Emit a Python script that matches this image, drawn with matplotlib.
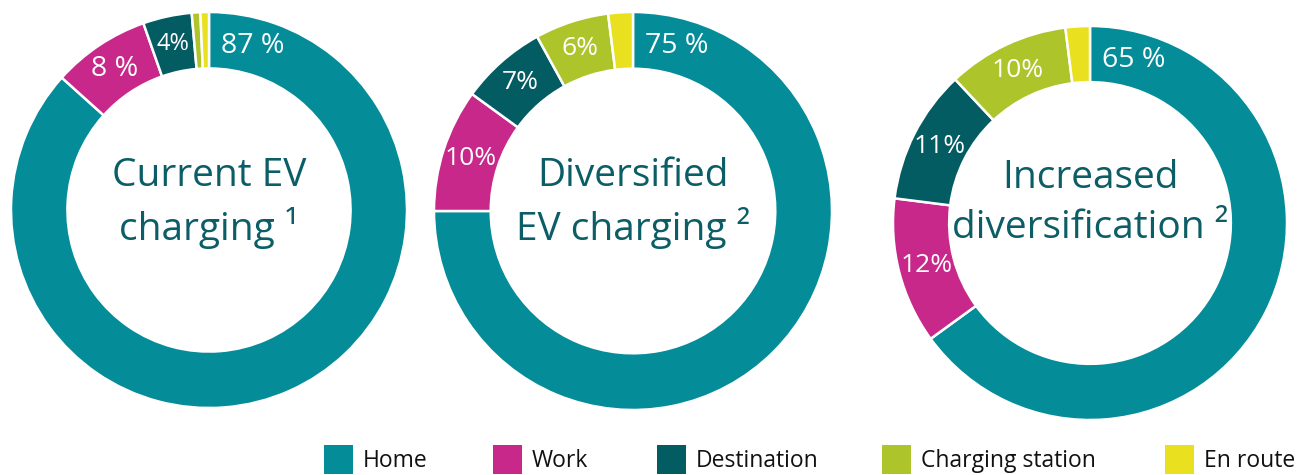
import matplotlib
matplotlib.use("Agg")
import matplotlib.pyplot as plt
import numpy as np

categories = ["Home", "Work", "Destination", "Charging station", "En route"]
colors = ["#048c98", "#c7288a", "#045c63", "#adc52b", "#e9e11f"]

current = [87, 8, 4, 0.7, 0.7]
diversified = [75, 10, 7, 6, 2]
increased = [65, 12, 11, 10, 2]

labels_current = ["87 %", "8 %", "4%", "", ""]
labels_diversified = ["75 %", "10%", "7%", "6%", ""]
labels_increased = ["65 %", "12%", "11%", "10%", ""]

titles = ["Current EV\ncharging ¹", "Diversified\nEV charging ²", "Increased\ndiversification ²"]

W, H = 1308, 475
fig = plt.figure(figsize=(W / 100, H / 100), dpi=100)
ax = fig.add_axes([0, 0, 1, 1])

FONT = ["Open Sans", "DejaVu Sans"]
text_color = "#0b5d66"

charts = [
    (current, labels_current, (209, H - 210), 198, [20.5, 20.5, 17, 17, 17]),
    (diversified, labels_diversified, (633, H - 211), 199, [20.5, 19, 19, 19, 19]),
    (increased, labels_increased, (1090, H - 223), 197, [20.5, 19, 19, 19, 19]),
]

for (vals, labs, center, r, fsz), title in zip(charts, titles):
    width_frac = 0.285
    ax.pie(vals, colors=colors, startangle=90, counterclock=False,
           center=center, radius=r,
           wedgeprops=dict(width=r * width_frac, edgecolor="white", linewidth=1.8))
    total = float(sum(vals))
    cum = 0.0
    rmid = r * (1 - width_frac / 2)
    for i, (v, lab) in enumerate(zip(vals, labs)):
        start = cum / total * 360
        end = (cum + v) / total * 360
        cum += v
        if not lab:
            continue
        if i == 0:
            ang = 15.0  # home label near top
        else:
            ang = (start + end) / 2
        theta = np.deg2rad(90 - ang)
        x = center[0] + rmid * np.cos(theta)
        y = center[1] + rmid * np.sin(theta)
        ax.text(x, y, lab, color="white", fontsize=fsz[i], ha="center", va="center",
                family=FONT)
    ax.text(center[0], H - 203, title, color=text_color, fontsize=28,
            ha="center", va="center", family=FONT, linespacing=1.38)

# Legend
leg_x = [324, 493, 657, 882, 1165]
for cat, col, lx in zip(categories, colors, leg_x):
    ax.add_patch(plt.Rectangle((lx, 1), 29, 29, facecolor=col, edgecolor="none"))
    ax.text(lx + 39, 14, cat, fontsize=16.5, color="#111111", ha="left", va="center",
            family=FONT)

ax.set_xlim(0, W)
ax.set_ylim(0, H)
ax.set_aspect("auto")
ax.axis("off")

fig.savefig("out.png", dpi=100)
